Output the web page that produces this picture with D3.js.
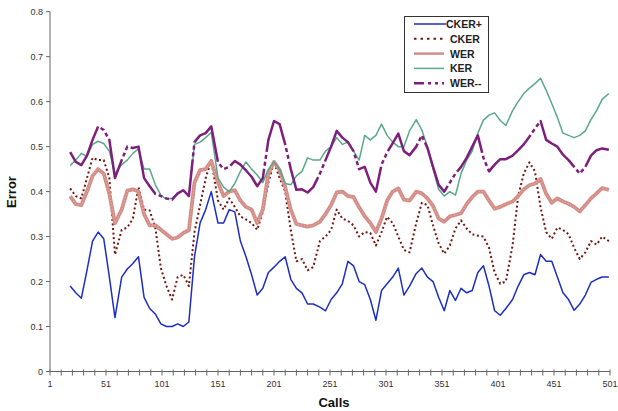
<!DOCTYPE html>
<html>
<head>
<meta charset="utf-8">
<script src="https://cdn.jsdelivr.net/npm/d3@7"></script>
<style>
  html, body { margin: 0; padding: 0; background: #fff; }
  svg { display: block; font-family: Arial, "Liberation Sans", sans-serif; }
  .tick-label { font-size: 9px; fill: #333; }
  .axis-title { font-size: 13px; font-weight: bold; fill: #111; }
  .legend-text { font-size: 10.5px; font-weight: bold; fill: #222; }
</style>
</head>
<body>
<div id="chart"></div>
<script>
/* Error per call window for five estimators.
   One sample roughly every 5 calls, from call 19 to call 500. */
const calls = [
  19, 24, 29, 34, 39, 44, 49, 54, 59, 65,
  70, 75, 80, 85, 90, 95, 100, 105, 110, 115,
  120, 125, 130, 135, 140, 145, 151, 156, 161, 166,
  171, 176, 181, 186, 191, 196, 201, 206, 211, 216,
  221, 226, 231, 236, 242, 247, 252, 257, 262, 267,
  272, 277, 282, 287, 292, 297, 302, 307, 312, 317,
  322, 328, 333, 338, 343, 348, 353, 358, 363, 368,
  373, 378, 383, 388, 393, 398, 403, 408, 414, 419,
  424, 429, 434, 439, 444, 449, 454, 459, 464, 469,
  474, 479, 484, 489, 494, 500
];

const ckerPlus = [
  0.19, 0.175, 0.163, 0.225, 0.29, 0.31, 0.295, 0.21, 0.12, 0.21,
  0.228, 0.24, 0.255, 0.165, 0.14, 0.128, 0.106, 0.1, 0.1, 0.106,
  0.1, 0.11, 0.255, 0.33, 0.36, 0.4, 0.33, 0.33, 0.36, 0.355,
  0.29, 0.255, 0.215, 0.17, 0.185, 0.22, 0.232, 0.245, 0.255, 0.205,
  0.185, 0.175, 0.15, 0.15, 0.143, 0.135, 0.16, 0.175, 0.195, 0.245,
  0.235, 0.2, 0.193, 0.16, 0.114, 0.18, 0.195, 0.21, 0.23, 0.17,
  0.19, 0.218, 0.23, 0.21, 0.2, 0.165, 0.135, 0.18, 0.158, 0.185,
  0.175, 0.18, 0.22, 0.235, 0.19, 0.135, 0.125, 0.14, 0.16, 0.19,
  0.215, 0.22, 0.215, 0.26, 0.245, 0.245, 0.21, 0.175, 0.16, 0.136,
  0.15, 0.17, 0.198, 0.205, 0.21, 0.21
];

const cker = [
  0.407, 0.39, 0.385, 0.43, 0.475, 0.47, 0.47, 0.43, 0.26, 0.315,
  0.32, 0.34, 0.41, 0.36, 0.358, 0.32, 0.23, 0.19, 0.16, 0.21,
  0.215, 0.19, 0.31, 0.37, 0.43, 0.47, 0.38, 0.36, 0.385, 0.366,
  0.345, 0.338, 0.33, 0.315, 0.355, 0.42, 0.466, 0.43, 0.4, 0.314,
  0.245, 0.25, 0.225, 0.232, 0.29, 0.3, 0.315, 0.36, 0.34, 0.335,
  0.325, 0.3, 0.31, 0.308, 0.28, 0.31, 0.344, 0.33, 0.3, 0.27,
  0.265, 0.33, 0.375, 0.37, 0.325, 0.285, 0.262, 0.28, 0.318, 0.336,
  0.318, 0.305, 0.302, 0.3, 0.275, 0.22, 0.195, 0.2, 0.28, 0.39,
  0.44, 0.465, 0.445, 0.365, 0.31, 0.295, 0.32, 0.315, 0.305, 0.275,
  0.25, 0.265, 0.29, 0.282, 0.3, 0.29
];

const wer = [
  0.39, 0.372, 0.37, 0.4, 0.435, 0.45, 0.44, 0.395, 0.33, 0.36,
  0.402, 0.405, 0.4, 0.35, 0.325, 0.325, 0.315, 0.305, 0.295, 0.298,
  0.308, 0.314, 0.42, 0.448, 0.45, 0.468, 0.42, 0.39, 0.4, 0.403,
  0.38, 0.366, 0.36, 0.33, 0.36, 0.44, 0.466, 0.448, 0.41, 0.36,
  0.328, 0.325, 0.322, 0.325, 0.333, 0.35, 0.37, 0.398, 0.4, 0.39,
  0.388, 0.365, 0.345, 0.33, 0.31, 0.34, 0.38, 0.4, 0.407, 0.382,
  0.38, 0.4, 0.396, 0.385, 0.368, 0.34, 0.333, 0.345, 0.348, 0.352,
  0.372, 0.388, 0.4, 0.4, 0.38, 0.362, 0.366, 0.372, 0.378, 0.39,
  0.405, 0.414, 0.418, 0.428, 0.395, 0.375, 0.385, 0.378, 0.373, 0.366,
  0.356, 0.37, 0.385, 0.396, 0.408, 0.404
];

const ker = [
  0.458, 0.47, 0.485, 0.478, 0.505, 0.512, 0.507, 0.49, 0.44, 0.46,
  0.47, 0.485, 0.495, 0.45, 0.45, 0.415, 0.392, 0.383, 0.385, 0.395,
  0.403, 0.39, 0.505, 0.51, 0.52, 0.532, 0.43, 0.41, 0.4, 0.418,
  0.445, 0.466, 0.45, 0.437, 0.42, 0.45, 0.466, 0.45, 0.418, 0.415,
  0.435, 0.445, 0.475, 0.47, 0.47, 0.49, 0.5, 0.52, 0.505, 0.51,
  0.49, 0.47, 0.525, 0.515, 0.525, 0.55, 0.525, 0.51, 0.5, 0.5,
  0.535, 0.56, 0.537, 0.5, 0.45, 0.405, 0.39, 0.4, 0.392, 0.44,
  0.47, 0.49, 0.53, 0.559, 0.57, 0.575, 0.558, 0.547, 0.58, 0.6,
  0.618, 0.63, 0.64, 0.652, 0.625, 0.596, 0.565, 0.53, 0.525, 0.52,
  0.525, 0.535, 0.56, 0.58, 0.605, 0.618
];

const werMinus = [
  0.488, 0.466, 0.459, 0.48, 0.515, 0.545, 0.537, 0.515, 0.43, 0.47,
  0.5, 0.497, 0.5, 0.43, 0.412, 0.395, 0.39, 0.385, 0.382, 0.396,
  0.403, 0.39, 0.51, 0.525, 0.53, 0.545, 0.465, 0.45, 0.455, 0.468,
  0.46, 0.447, 0.433, 0.412, 0.43, 0.515, 0.557, 0.55, 0.505, 0.45,
  0.404, 0.405, 0.398, 0.41, 0.44, 0.47, 0.5, 0.535, 0.52, 0.51,
  0.49, 0.45, 0.455, 0.42, 0.4, 0.46, 0.487, 0.508, 0.529, 0.49,
  0.481, 0.5, 0.525, 0.497, 0.455, 0.415, 0.4, 0.42, 0.44, 0.455,
  0.475, 0.5, 0.525, 0.475, 0.445, 0.46, 0.472, 0.472, 0.48, 0.492,
  0.505, 0.522, 0.54, 0.557, 0.515, 0.507, 0.5, 0.482, 0.47, 0.455,
  0.44, 0.455, 0.48, 0.492, 0.496, 0.493
];

const seriesNames = ["CKER+", "CKER", "WER", "KER", "WER--"];
const yTicks = [0, 0.1, 0.2, 0.3, 0.4, 0.5, 0.6, 0.7, 0.8];
const xLabelTicks = d3.range(1, 502, 50);   // 1, 51, ... 501
const xMinorTicks = d3.range(1, 502, 10);

const W = 618, H = 411;
const svg = d3.select("#chart").append("svg").attr("width", W).attr("height", H);

const x = d3.scaleLinear().domain([1, 501]).range([50, 610]);
const y = d3.scaleLinear().domain([0, 0.8]).range([371.5, 11.7]);

// styles per series: drawn in legend order, WER-- on top
const styles = [
  { data: ckerPlus, color: "#1c2ec4", width: 1.5, dash: null },
  { data: cker,     color: "#72180e", width: 2,   dash: "2,2.6" },
  { data: wer,      color: "#d48c86", width: 3.8, dash: null, overlay: "#efc6c2" },
  { data: ker,      color: "#5aa88c", width: 1.5, dash: null },
  { data: werMinus, color: "#7e1f7e", width: 2.5, dash: "60,3,4,3,4,3" }
];

/* axes */
const axisColor = "#666";
const g = svg.append("g");

g.append("line").attr("x1", x(1)).attr("x2", x(1)).attr("y1", y(0.8)).attr("y2", y(0))
  .attr("stroke", axisColor).attr("stroke-width", 1);
g.selectAll(".ytick").data(yTicks).join("line")
  .attr("x1", x(1) - 4).attr("x2", x(1))
  .attr("y1", d => y(d)).attr("y2", d => y(d))
  .attr("stroke", axisColor);
g.selectAll(".ylab").data(yTicks).join("text")
  .attr("class", "tick-label")
  .attr("x", x(1) - 7).attr("y", d => y(d) + 3.5)
  .attr("text-anchor", "end")
  .text(d => d === 0 ? "0" : d3.format(".1f")(d));

g.append("line").attr("x1", x(1)).attr("x2", x(501)).attr("y1", y(0)).attr("y2", y(0))
  .attr("stroke", axisColor).attr("stroke-width", 1);
g.selectAll(".xtick").data(xMinorTicks).join("line")
  .attr("x1", d => x(d)).attr("x2", d => x(d))
  .attr("y1", y(0) - 2).attr("y2", y(0) + 4)
  .attr("stroke", axisColor);
g.selectAll(".xlab").data(xLabelTicks).join("text")
  .attr("class", "tick-label")
  .attr("x", d => x(d)).attr("y", y(0) + 15)
  .attr("text-anchor", "middle")
  .text(d => d);

svg.append("text").attr("class", "axis-title")
  .attr("x", 334).attr("y", 407).attr("text-anchor", "middle").text("Calls");
svg.append("text").attr("class", "axis-title")
  .attr("transform", "translate(16,192) rotate(-90)")
  .attr("text-anchor", "middle").text("Error");

/* series */
const line = d3.line().x((d, i) => x(calls[i])).y(d => y(d));
const plot = svg.append("g");
styles.forEach(s => {
  plot.append("path").datum(s.data)
    .attr("d", line).attr("fill", "none")
    .attr("stroke", s.color).attr("stroke-width", s.width)
    .attr("stroke-linejoin", "round")
    .attr("stroke-dasharray", s.dash);
  if (s.overlay) {
    plot.append("path").datum(s.data)
      .attr("d", line).attr("fill", "none")
      .attr("stroke", s.overlay).attr("stroke-width", 0.8)
      .attr("stroke-dasharray", "1,2");
  }
});

/* legend */
const lg = svg.append("g");
lg.append("rect").attr("x", 404.5).attr("y", 16.5).attr("width", 84).attr("height", 76)
  .attr("fill", "#fff").attr("stroke", "#333").attr("stroke-width", 1);
seriesNames.forEach((name, i) => {
  const s = styles[i];
  const ly = 24 + i * 14.8;
  lg.append("line").attr("x1", 414).attr("x2", i === 0 ? 446 : 444).attr("y1", ly).attr("y2", ly)
    .attr("stroke", s.color).attr("stroke-width", i === 2 ? 2.5 : s.width)
    .attr("stroke-dasharray", i === 4 ? "10,4,3,4,3,4" : (i === 1 ? "2.5,4" : null));
  lg.append("text").attr("class", "legend-text")
    .attr("x", i === 0 ? 446 : 450).attr("y", ly + 4).text(name);
});
</script>
</body>
</html>
